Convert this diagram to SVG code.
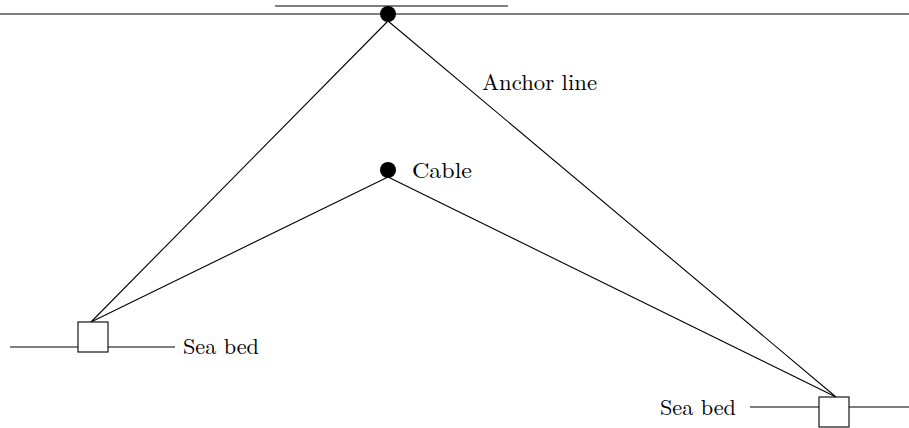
<svg xmlns="http://www.w3.org/2000/svg" width="909" height="428" viewBox="0 0 909 428">
  <style>
    .ln { stroke: #000; stroke-width: 1.1; fill: none; }
    .box { stroke: #000; stroke-width: 1.1; fill: #fff; }
    .dot { fill: #000; }
    .lbl { font-family: "Latin Modern Roman", "Liberation Serif", serif; font-size: 22px; fill: #000; }
  </style>
  <rect width="909" height="428" fill="#fff"/>

  <!-- sea surface and floater -->
  <g id="surface">
    <line class="ln" x1="0" y1="14" x2="909" y2="14"/>
    <line class="ln" x1="275" y1="6" x2="508" y2="6"/>
  </g>

  <!-- connectors -->
  <g id="connectors">
    <line class="ln" x1="388" y1="21" x2="91" y2="322"/>
    <line class="ln" x1="388" y1="21" x2="836" y2="397"/>
    <line class="ln" x1="388" y1="177" x2="91" y2="322"/>
    <line class="ln" x1="388" y1="177" x2="836" y2="397"/>
  </g>

  <g id="buoy">
    <circle class="dot" cx="388" cy="14" r="8"/>
  </g>

  <g id="anchor-line-label">
    <text class="lbl" x="482" y="90" textLength="115" lengthAdjust="spacingAndGlyphs">Anchor line</text>
  </g>

  <g id="cable">
    <circle class="dot" cx="388" cy="170" r="8"/>
    <text class="lbl" x="412" y="178" textLength="60" lengthAdjust="spacingAndGlyphs">Cable</text>
  </g>

  <g id="anchor-left">
    <line class="ln" x1="10" y1="347" x2="175" y2="347"/>
    <rect class="box" x="78" y="322" width="30" height="30"/>
    <text class="lbl" x="183" y="354" textLength="76" lengthAdjust="spacingAndGlyphs">Sea bed</text>
  </g>

  <g id="anchor-right">
    <line class="ln" x1="750" y1="407" x2="909" y2="407"/>
    <rect class="box" x="819" y="397" width="30" height="30"/>
    <text class="lbl" x="660" y="415" textLength="76" lengthAdjust="spacingAndGlyphs">Sea bed</text>
  </g>
</svg>
